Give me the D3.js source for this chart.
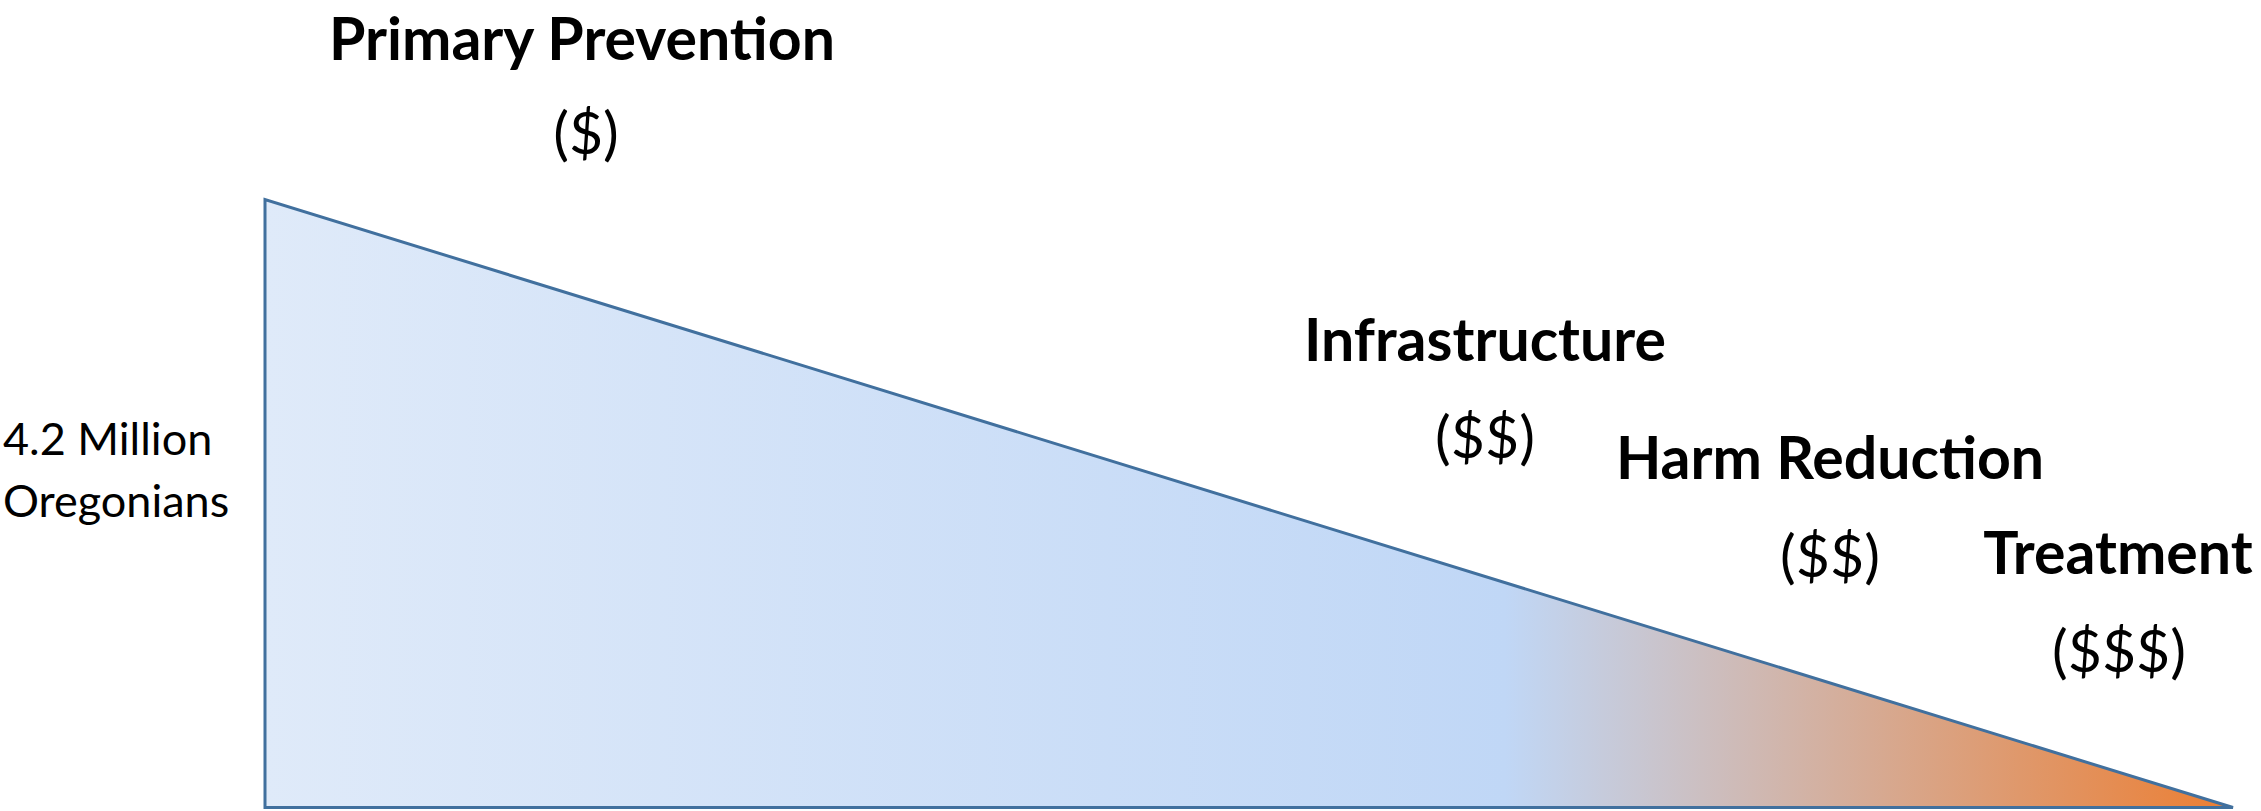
<!DOCTYPE html>
<html>
<head>
<meta charset="utf-8">
<script src="https://cdn.jsdelivr.net/npm/d3@7"></script>
<style>
  html, body { margin: 0; padding: 0; background: #fff; }
  svg { display: block; }
</style>
</head>
<body>
<div id="chart"></div>
<script>
// data
var stages = ["Primary Prevention", "Infrastructure", "Harm Reduction", "Treatment"];
var costs = ["($)", "($$)", "($$)", "($$$)"];
var population = [4.2, 0];          // millions, start -> end of continuum
var popLabel = ["4.2 Million", "Oregonians"];

// layout
var w = 2261, h = 811;
var titlePos = [[582, 60], [1485, 361], [1830, 479], [2118, 574]];
var costPos = [[586, 154], [1485, 458], [1830, 577], [2119, 672]];

var svg = d3.select("#chart")
  .append("svg")
  .attr("width", w)
  .attr("height", h);

var x = d3.scaleLinear().domain([0, 1]).range([265, 2233]);
var y = d3.scaleLinear().domain([0, 4.2]).range([807.5, 199.5]);

// gradient blue -> orange
var grad = svg.append("defs")
  .append("linearGradient")
  .attr("id", "fillGrad")
  .attr("x1", "0%").attr("x2", "100%")
  .attr("y1", "0%").attr("y2", "0%");
grad.append("stop").attr("offset", "0%").attr("stop-color", "#DFEAF9");
grad.append("stop").attr("offset", "63%").attr("stop-color", "#C0D7F6");
grad.append("stop").attr("offset", "100%").attr("stop-color", "#EC7E32");

var pts = [[0, population[0]], [0, population[1]], [1, population[1]]];

svg.append("path")
  .datum(pts)
  .attr("d", d3.line()
    .x(function(d){ return x(d[0]); })
    .y(function(d){ return y(d[1]); })
    .curve(d3.curveLinearClosed))
  .attr("fill", "url(#fillGrad)")
  .attr("stroke", "#41709E")
  .attr("stroke-width", 3)
  .attr("stroke-linejoin", "miter");

// stage titles
svg.selectAll("text.stage")
  .data(stages)
  .enter()
  .append("text")
  .attr("class", "stage")
  .text(function(d){ return d; })
  .attr("x", function(d, i){ return titlePos[i][0]; })
  .attr("y", function(d, i){ return titlePos[i][1]; })
  .attr("text-anchor", "middle")
  .attr("font-family", "Lato, 'Open Sans', sans-serif")
  .attr("font-weight", "bold")
  .attr("font-size", "59px")
  .attr("fill", "#000");

// cost labels
svg.selectAll("text.cost")
  .data(costs)
  .enter()
  .append("text")
  .attr("class", "cost")
  .text(function(d){ return d; })
  .attr("x", function(d, i){ return costPos[i][0]; })
  .attr("y", function(d, i){ return costPos[i][1]; })
  .attr("text-anchor", "middle")
  .attr("font-family", "Lato, 'Open Sans', sans-serif")
  .attr("font-size", "59px")
  .attr("fill", "#000");

// population label
svg.selectAll("text.pop")
  .data(popLabel)
  .enter()
  .append("text")
  .attr("class", "pop")
  .text(function(d){ return d; })
  .attr("x", 3)
  .attr("y", function(d, i){ return 455 + i * 62; })
  .attr("font-family", "Lato, 'Open Sans', sans-serif")
  .attr("font-size", "45px")
  .attr("fill", "#000");
</script>
</body>
</html>
